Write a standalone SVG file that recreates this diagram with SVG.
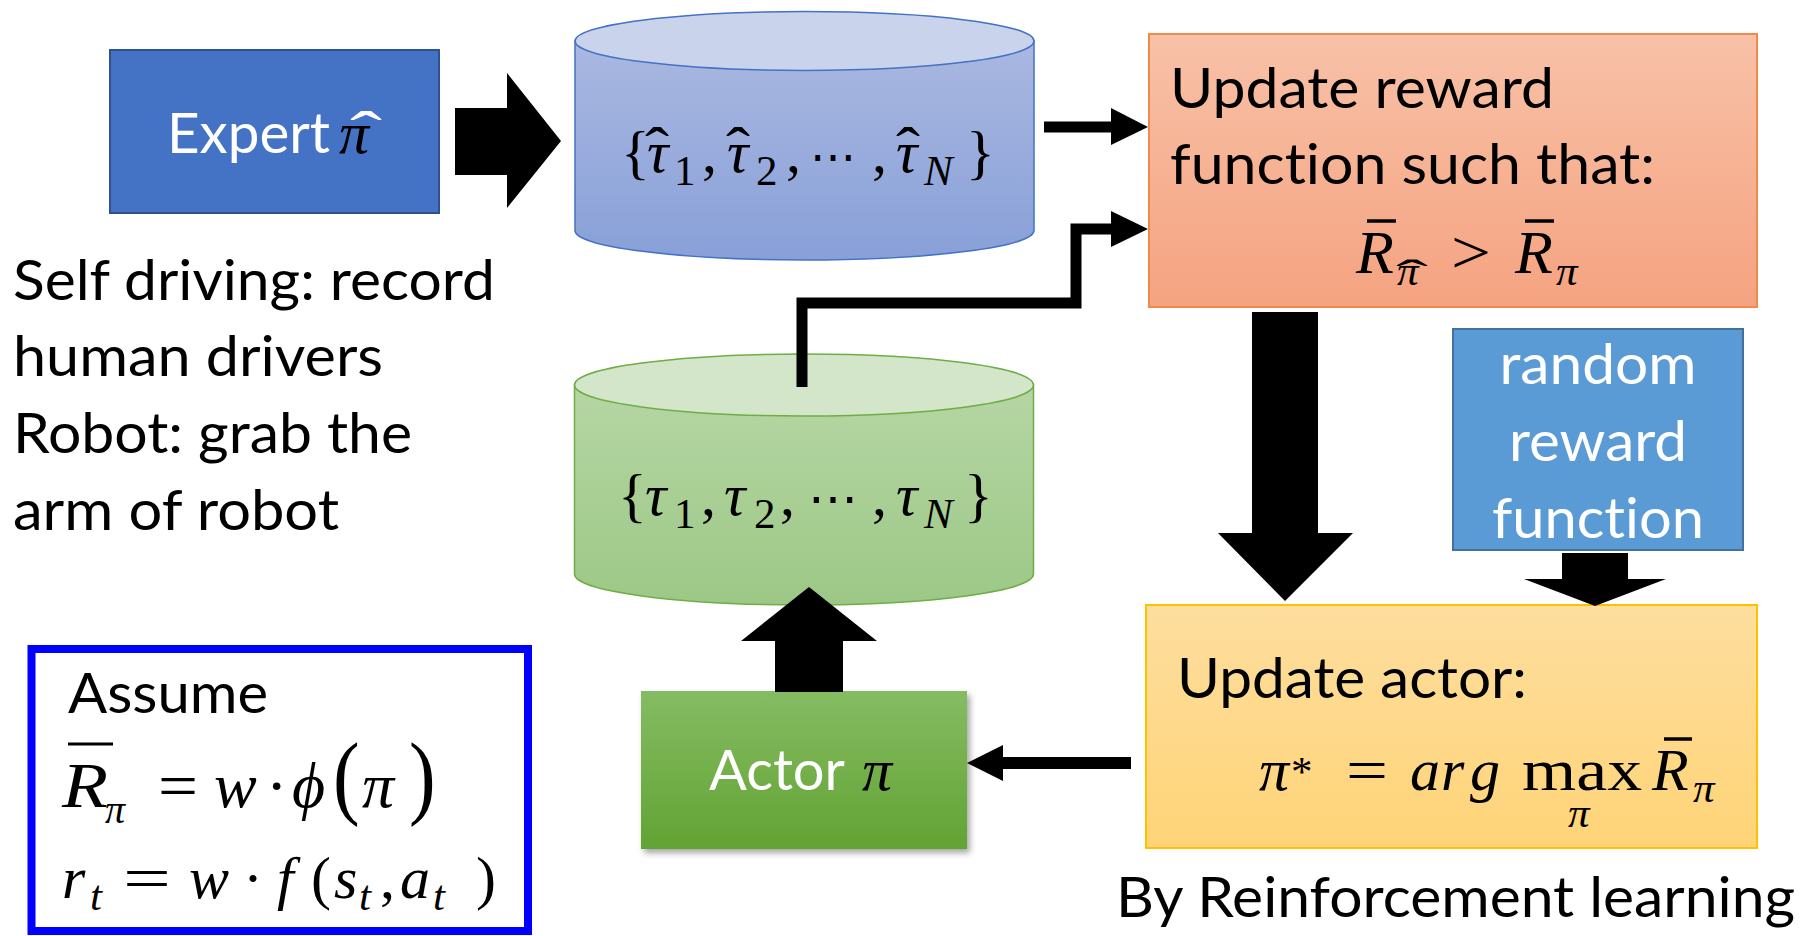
<svg xmlns="http://www.w3.org/2000/svg" width="1812" height="936" viewBox="0 0 1812 936">
  <defs>
    <linearGradient id="gBlueCyl" x1="0" y1="0" x2="0" y2="1">
      <stop offset="0" stop-color="#AAB8E1"/>
      <stop offset="1" stop-color="#88A0D8"/>
    </linearGradient>
    <linearGradient id="gGreenCyl" x1="0" y1="0" x2="0" y2="1">
      <stop offset="0" stop-color="#B6D6A4"/>
      <stop offset="1" stop-color="#9CC886"/>
    </linearGradient>
    <linearGradient id="gOrange" x1="0" y1="0" x2="0" y2="1">
      <stop offset="0" stop-color="#F8C1A7"/>
      <stop offset="1" stop-color="#F5A380"/>
    </linearGradient>
    <linearGradient id="gYellow" x1="0" y1="0" x2="0" y2="1">
      <stop offset="0" stop-color="#FEDE9E"/>
      <stop offset="1" stop-color="#FFD478"/>
    </linearGradient>
    <linearGradient id="gActor" x1="0" y1="0" x2="0" y2="1">
      <stop offset="0" stop-color="#85BC63"/>
      <stop offset="1" stop-color="#62A333"/>
    </linearGradient>
    <filter id="shadow" x="-10%" y="-10%" width="125%" height="130%">
      <feDropShadow dx="3" dy="4" stdDeviation="3" flood-color="#000" flood-opacity="0.35"/>
    </filter>
  </defs>
  <style>
    text{font-variant-ligatures:none}
    .sans{font-family:Lato,"Liberation Sans",sans-serif;font-size:56px;fill:#000}
    .white{fill:#fff}
    .mi{font-family:"Liberation Serif","DejaVu Serif",serif;font-style:italic;font-size:60px;fill:#000}
    .up{font-style:normal}
    .sub{font-size:43px}
    .hat{font-family:"Liberation Serif","DejaVu Serif",serif;font-size:60px;text-anchor:middle}
    .bar{stroke:#000;stroke-width:3.5}
    .wire{fill:none;stroke:#000;stroke-width:11;stroke-linejoin:miter;stroke-linecap:butt}
    .head{fill:#000}
  </style>

  <rect width="1812" height="936" fill="#fff"/>

  <!-- expert policy -->
  <g id="expert">
    <rect x="110" y="50" width="329" height="163" fill="#4472C4" stroke="#2F528F" stroke-width="2"/>
    <text class="sans white" x="167" y="153" textLength="163" lengthAdjust="spacingAndGlyphs">Expert</text>
    <text class="mi white" x="339" y="153">π</text>
    <text class="hat white" x="366" y="152" textLength="32" lengthAdjust="spacingAndGlyphs">ˆ</text>
  </g>

  <!-- expert trajectories -->
  <g id="expert-trajectories">
    <path d="M575,41 V230.5 A229.5,29.5 0 0 0 1034,230.5 V41 Z" fill="url(#gBlueCyl)" stroke="#4472C4" stroke-width="1.5"/>
    <ellipse cx="804.5" cy="41" rx="229.5" ry="29.5" fill="#C9D3EC" stroke="#4472C4" stroke-width="1.5"/>
    <text class="mi" y="172">
      <tspan class="up" x="621">{</tspan>
      <tspan x="647">τ</tspan>
      <tspan class="up sub" x="674" y="185">1</tspan>
      <tspan class="up" x="702" y="172">,</tspan>
      <tspan x="727">τ</tspan>
      <tspan class="up sub" x="756" y="185">2</tspan>
      <tspan class="up" x="786" y="172">,</tspan>
      <tspan class="up" x="810" style="font-size:46px">⋯</tspan>
      <tspan class="up" x="872">,</tspan>
      <tspan x="896">τ</tspan>
      <tspan class="sub" x="924" y="185">N</tspan>
      <tspan class="up" x="966" y="172">}</tspan>
    </text>
    <text class="hat" x="657" y="168" textLength="24" lengthAdjust="spacingAndGlyphs">ˆ</text>
    <text class="hat" x="738" y="168" textLength="24" lengthAdjust="spacingAndGlyphs">ˆ</text>
    <text class="hat" x="908" y="168" textLength="24" lengthAdjust="spacingAndGlyphs">ˆ</text>
  </g>

  <!-- reward update -->
  <g id="update-reward">
    <rect x="1149" y="34" width="608" height="273" fill="url(#gOrange)" stroke="#F08A4B" stroke-width="2"/>
    <text class="sans" x="1170" y="108" textLength="384" lengthAdjust="spacingAndGlyphs">Update reward</text>
    <text class="sans" x="1170" y="184" textLength="485" lengthAdjust="spacingAndGlyphs">function such that:</text>
    <text class="mi" y="273" style="font-size:62px">
      <tspan x="1356">R</tspan>
      <tspan class="sub" x="1397" y="285">π</tspan>
      <tspan x="1515" y="273">R</tspan>
      <tspan class="sub" x="1556" y="285">π</tspan>
    </text>
    <text class="mi up" x="1451" y="273" style="font-size:62px" textLength="40" lengthAdjust="spacingAndGlyphs">&gt;</text>
    <text class="hat" x="1412" y="289" style="font-size:42px" textLength="32" lengthAdjust="spacingAndGlyphs">ˆ</text>
    <line class="bar" x1="1367" y1="221" x2="1396" y2="221"/>
    <line class="bar" x1="1525" y1="221" x2="1554" y2="221"/>
  </g>

  <!-- random reward -->
  <g id="random-reward">
    <rect x="1453" y="329" width="290" height="221" fill="#5B9BD5" stroke="#41719C" stroke-width="2"/>
    <text class="sans white" x="1598" y="384" text-anchor="middle" textLength="197" lengthAdjust="spacingAndGlyphs">random</text>
    <text class="sans white" x="1598" y="461" text-anchor="middle" textLength="178" lengthAdjust="spacingAndGlyphs">reward</text>
    <text class="sans white" x="1598" y="538" text-anchor="middle" textLength="212" lengthAdjust="spacingAndGlyphs">function</text>
  </g>

  <!-- actor update -->
  <g id="update-actor">
    <rect x="1146" y="605" width="611" height="243" fill="url(#gYellow)" stroke="#FFC000" stroke-width="2"/>
    <text class="sans" x="1177" y="698" textLength="350" lengthAdjust="spacingAndGlyphs">Update actor:</text>
    <text class="mi" y="790">
      <tspan x="1259">π</tspan>
      <tspan class="up sub" x="1291" y="786">*</tspan>
      <tspan x="1410" y="790">a</tspan>
      <tspan x="1441">r</tspan>
      <tspan x="1470">g</tspan>
    </text>
    <text class="mi up" x="1346" y="790" textLength="42" lengthAdjust="spacingAndGlyphs">=</text>
    <text class="mi up" x="1522" y="790" textLength="120" lengthAdjust="spacingAndGlyphs">max</text>
    <text class="mi sub" x="1568" y="827">π</text>
    <text class="mi" y="790">
      <tspan x="1652">R</tspan>
      <tspan class="sub" x="1693" y="802">π</tspan>
    </text>
    <line class="bar" x1="1664" y1="739" x2="1692" y2="739"/>
  </g>

  <!-- sampled trajectories -->
  <g id="actor-trajectories">
    <path d="M574.5,385 V574 A229.5,31 0 0 0 1033.5,574 V385 Z" fill="url(#gGreenCyl)" stroke="#70AD47" stroke-width="1.5"/>
    <ellipse cx="804" cy="385" rx="229.5" ry="31" fill="#D3E6C9" stroke="#70AD47" stroke-width="1.5"/>
    <text class="mi" y="515">
      <tspan class="up" x="618">{</tspan>
      <tspan x="645">τ</tspan>
      <tspan class="up sub" x="674" y="528">1</tspan>
      <tspan class="up" x="701" y="515">,</tspan>
      <tspan x="724">τ</tspan>
      <tspan class="up sub" x="754" y="528">2</tspan>
      <tspan class="up" x="780" y="515">,</tspan>
      <tspan class="up" x="808" style="font-size:50px">⋯</tspan>
      <tspan class="up" x="872">,</tspan>
      <tspan x="896">τ</tspan>
      <tspan class="sub" x="924" y="528">N</tspan>
      <tspan class="up" x="964" y="515">}</tspan>
    </text>
  </g>

  <!-- actor -->
  <g id="actor">
    <rect x="641" y="691" width="326" height="158" fill="url(#gActor)" filter="url(#shadow)"/>
    <text class="sans white" x="709" y="790" textLength="136" lengthAdjust="spacingAndGlyphs">Actor</text>
    <text class="mi white" x="862" y="790">π</text>
  </g>

  <!-- side notes -->
  <g id="examples">
    <text class="sans" x="13" y="300" textLength="482" lengthAdjust="spacingAndGlyphs">Self driving: record</text>
    <text class="sans" x="13" y="376" textLength="370" lengthAdjust="spacingAndGlyphs">human drivers</text>
    <text class="sans" x="13" y="453" textLength="399" lengthAdjust="spacingAndGlyphs">Robot: grab the</text>
    <text class="sans" x="13" y="530" textLength="326" lengthAdjust="spacingAndGlyphs">arm of robot</text>
  </g>

  <g id="assumption">
    <rect x="31.5" y="649" width="496.5" height="282" fill="#fff" stroke="#0000FF" stroke-width="8"/>
    <text class="sans" x="68" y="713" textLength="200" lengthAdjust="spacingAndGlyphs">Assume</text>
    <text class="mi" x="62" y="807" style="font-size:64px" textLength="46" lengthAdjust="spacingAndGlyphs">R</text>
    <text class="mi" y="807" style="font-size:64px">
      <tspan x="105" y="823" style="font-size:40px">π</tspan>
      <tspan x="214" y="807">w</tspan>
      <tspan class="up" x="266">·</tspan>
      <tspan x="292">ϕ</tspan>
      <tspan x="362">π</tspan>
    </text>
    <text class="mi up" x="158" y="807" style="font-size:64px" textLength="40" lengthAdjust="spacingAndGlyphs">=</text>
    <text class="mi up" transform="translate(333,807) scale(1.25,1.45)" style="font-size:64px">(</text>
    <text class="mi up" transform="translate(409,807) scale(1.25,1.45)" style="font-size:64px">)</text>
    <line class="bar" x1="68" y1="744" x2="113" y2="744" style="stroke-width:3"/>
    <text class="mi" y="898">
      <tspan x="62">r</tspan>
      <tspan class="sub" x="90" y="910">t</tspan>
      <tspan x="189" y="898">w</tspan>
      <tspan class="up" x="243">·</tspan>
      <tspan x="277">f</tspan>
      <tspan class="up" x="311">(</tspan>
      <tspan x="334">s</tspan>
      <tspan class="sub" x="359" y="910">t</tspan>
      <tspan class="up" x="380" y="898">,</tspan>
      <tspan x="400">a</tspan>
      <tspan class="sub" x="433" y="910">t</tspan>
      <tspan class="up" x="476" y="898">)</tspan>
    </text>
    <text class="mi up" x="123" y="898" textLength="48" lengthAdjust="spacingAndGlyphs">=</text>
  </g>

  <g id="method-note">
    <text class="sans" x="1116" y="917" textLength="679" lengthAdjust="spacingAndGlyphs">By Reinforcement learning</text>
  </g>

  <!-- connectors -->
  <g id="connectors">
    <!-- expert to demonstrations -->
    <polygon class="head" points="455,108 507,108 507,73 561,141 507,208 507,175 455,175"/>
    <!-- demonstrations to reward update -->
    <line class="wire" x1="1044" y1="127" x2="1112" y2="127"/>
    <polygon class="head" points="1111,108 1148,127 1111,145"/>
    <!-- actor trajectories to reward update -->
    <polyline class="wire" points="802,387 802,303 1076,303 1076,229 1112,229"/>
    <polygon class="head" points="1111,211 1148,229 1111,247"/>
    <!-- reward update to actor update -->
    <polygon class="head" points="1252,312 1318,312 1318,533 1353,533 1285,601 1218,533 1252,533"/>
    <!-- random reward to actor update -->
    <polygon class="head" points="1562,553 1628,553 1628,579 1666,579 1595,606 1524,579 1562,579"/>
    <!-- actor to trajectories -->
    <polygon class="head" points="775,692 843,692 843,641 877,641 809,587 741,641 775,641"/>
    <!-- actor update to actor -->
    <line x1="1131" y1="763" x2="1002" y2="763" stroke="#000" stroke-width="12"/>
    <polygon class="head" points="1003,745 967,763 1003,781"/>
  </g>
</svg>
